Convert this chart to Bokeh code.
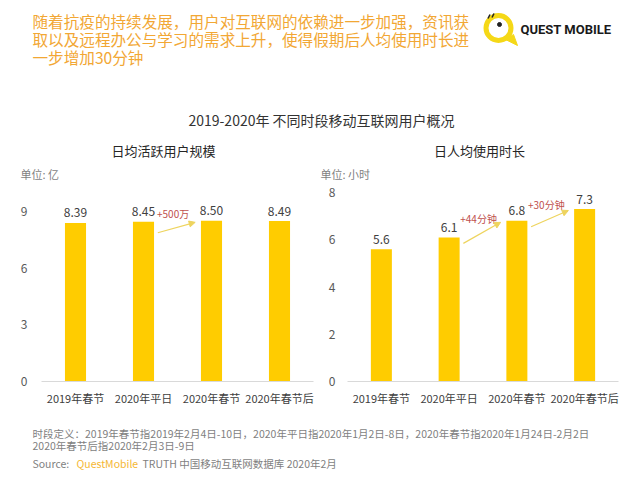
from bokeh.plotting import figure
from bokeh.layouts import column, row
from bokeh.models import Range1d, FactorRange, FixedTicker, Arrow, NormalHead, ColumnDataSource
from bokeh.core.properties import value
from bokeh.embed import file_html
from bokeh.resources import INLINE

FONT = "Noto Sans CJK SC"

# ---------------- data ----------------
categories = ["2019年春节", "2020年平日", "2020年春节", "2020年春节后"]

dau_values = [8.39, 8.45, 8.50, 8.49]
dau_labels = ["8.39", "8.45", "8.50", "8.49"]
dau_ticks = [0, 3, 6, 9]
dau_changes = [(1, 2, "+500万")]

time_values = [5.6, 6.1, 6.8, 7.3]
time_labels = ["5.6", "6.1", "6.8", "7.3"]
time_ticks = [0, 2, 4, 6, 8]
time_changes = [(1, 2, "+44分钟"), (2, 3, "+30分钟")]

headline = [
    "随着抗疫的持续发展，用户对互联网的依赖进一步加强，资讯获",
    "取以及远程办公与学习的需求上升，使得假期后人均使用时长进",
    "一步增加30分钟",
]
main_title = "2019-2020年 不同时段移动互联网用户概况"
left_title = "日均活跃用户规模"
left_unit = "单位: 亿"
right_title = "日人均使用时长"
right_unit = "单位: 小时"
note_lines = [
    "时段定义：2019年春节指2019年2月4日-10日，2020年平日指2020年1月2日-8日，2020年春节指2020年1月24日-2月2日",
    "2020年春节后指2020年2月3日-9日",
]
source_parts = ["Source:", "QuestMobile", "TRUTH 中国移动互联网数据库 2020年2月"]
brand = "QUEST MOBILE"

# ---------------- style ----------------
BAR = "#FFCC00"
ORANGE = "#F2A734"
RED = "#C0504D"
ARROW = "#EED45E"
DARK = "#333333"
GRAY = "#7F7F7F"

HDR_H = 182
CH_H = 228


def bare(width, height):
    p = figure(width=width, height=height, x_range=Range1d(0, width),
               y_range=Range1d(height, 0), output_backend="svg",
               toolbar_location=None, min_border=0,
               x_axis_location=None, y_axis_location=None)
    p.grid.visible = False
    p.outline_line_color = None
    p.background_fill_color = "white"
    p.border_fill_color = "white"
    return p


def txt(p, x, y, s, size, color, align="left", style="normal", font=FONT):
    p.text(x=[x], y=[y], text=[s], text_font=value(font), text_font_size=size,
           text_color=color, text_align=align, text_baseline="middle",
           text_font_style=style)


# ---------------- header ----------------
hdr = bare(640, HDR_H)
for k, line in enumerate(headline):
    txt(hdr, 32, 20.3 + 18.3 * k, line, "15.6px", ORANGE)

# logo
hdr.circle(x=[498], y=[27.5], radius=12.5, fill_color=None, line_color="#F5D817", line_width=5)
hdr.patch(x=[505, 517, 513], y=[39, 45, 34], fill_color="#F5D817", line_color="#F5D817")
hdr.scatter(x=[499], y=[24], size=4, color="#222222")
hdr.segment(x0=[487.5, 491.5], y0=[18, 17], x1=[489.5, 493.5], y1=[14, 13], line_color="#222222", line_width=1.5)
txt(hdr, 520, 29, brand, "13px", "#1A1A1A", style="bold", font="Roboto")

txt(hdr, 321, 119, main_title, "14px", DARK, align="center")
txt(hdr, 163, 150, left_title, "13px", "#262626", align="center")
txt(hdr, 479, 150, right_title, "13px", "#262626", align="center")
txt(hdr, 20, 173, left_unit, "11px", GRAY)
txt(hdr, 320, 173.5, right_unit, "11px", GRAY)


# ---------------- bar charts ----------------
def bar_chart(values, labels, ticks, y_end, changes, b_left, b_right, b_top, standoff,
              drop_start):
    p = figure(width=320, height=CH_H,
               x_range=FactorRange(factors=categories, range_padding=0, factor_padding=0),
               y_range=Range1d(0, y_end), output_backend="svg", toolbar_location=None,
               min_border_left=b_left, min_border_right=b_right,
               min_border_top=b_top, min_border_bottom=29)
    p.grid.visible = False
    p.outline_line_color = None
    p.background_fill_color = "white"
    p.border_fill_color = "white"

    src = ColumnDataSource(dict(cat=categories, val=values, lab=labels))
    p.vbar(x="cat", top="val", width=0.31, source=src, fill_color=BAR, line_color=None)
    p.text(x="cat", y="val", text="lab", source=src, y_offset=-10,
           text_align="center", text_baseline="middle", text_font=value(FONT),
           text_font_size="12px", text_color="#404040")

    ppu = 190.0 / y_end
    for i, j, lab in changes:
        xs, ys = i + 0.5 + 0.21, values[i] - drop_start / ppu
        xe, ye = j + 0.5 - 0.24, values[j] - 1.5 / ppu
        p.add_layout(Arrow(x_start=xs, y_start=ys, x_end=xe, y_end=ye,
                           line_color=ARROW, line_width=1.2,
                           end=NormalHead(size=6, fill_color=ARROW, line_color=ARROW)))
        p.text(x=[(xs + xe) / 2 - 0.05], y=[(ys + ye) / 2], text=[lab], y_offset=-14,
               text_align="center", text_baseline="middle", text_font=value(FONT),
               text_font_size="10px", text_color=RED)

    p.yaxis.ticker = FixedTicker(ticks=ticks)
    p.yaxis.axis_line_color = None
    p.yaxis.major_tick_line_color = None
    p.yaxis.minor_tick_line_color = None
    p.yaxis.major_tick_out = 0
    p.yaxis.major_tick_in = 0
    p.yaxis.major_label_standoff = standoff
    p.yaxis.major_label_text_font = FONT
    p.yaxis.major_label_text_font_size = "12px"
    p.yaxis.major_label_text_color = "#595959"

    p.xaxis.axis_line_color = "#D9D9D9"
    p.xaxis.major_tick_line_color = None
    p.xaxis.minor_tick_line_color = None
    p.xaxis.major_tick_out = 0
    p.xaxis.major_tick_in = 0
    p.xaxis.major_label_standoff = 8
    p.xaxis.major_label_text_font = FONT
    p.xaxis.major_label_text_font_size = "11px"
    p.xaxis.major_label_text_color = "#404040"
    return p


left = bar_chart(dau_values, dau_labels, dau_ticks, 10.0, dau_changes,
                 b_left=41, b_right=7, b_top=10, standoff=14, drop_start=11)
right = bar_chart(time_values, time_labels, time_ticks, 8.0, time_changes,
                  b_left=27, b_right=22, b_top=9, standoff=12, drop_start=6)

# ---------------- footer ----------------
ftr = bare(640, 68)
txt(ftr, 32, 23, note_lines[0], "10.5px", GRAY)
txt(ftr, 32, 35, note_lines[1], "10.5px", GRAY)
txt(ftr, 32, 53, source_parts[0], "10.5px", GRAY)
txt(ftr, 76, 53, source_parts[1], "10.5px", "#F5B733")
txt(ftr, 142, 53, source_parts[2], "10.5px", GRAY)

layout = column(hdr, row(left, right), ftr)
open("out.html", "w").write(file_html(layout, INLINE))
